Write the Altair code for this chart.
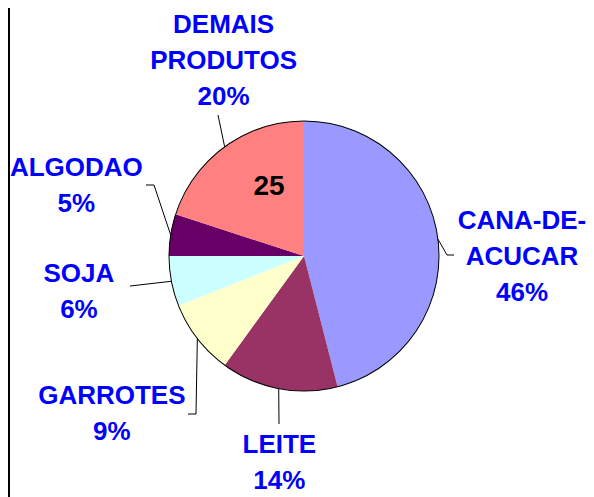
import math
import altair as alt
import pandas as pd

# ---- data ----
names = ["CANA-DE-ACUCAR", "LEITE", "GARROTES", "SOJA", "ALGODAO", "DEMAIS PRODUTOS"]
label_lines = [["CANA-DE-", "ACUCAR"], ["LEITE"], ["GARROTES"], ["SOJA"], ["ALGODAO"], ["DEMAIS", "PRODUTOS"]]
shares = [46, 14, 9, 6, 5, 20]
colors = ["#9999FF", "#993366", "#FFFFCC", "#CCFFFF", "#660066", "#FF8080"]
inner_note = "25"

# ---- layout ----
W, H = 578, 489
CX, CY = 296, 248          # pie centre inside the plot
R = 135                    # pie radius
LH = 36                    # label line height
label_radius = [218, 208, 249, 228, 238, 211]
label_nudge = [7.5, -4, -1.7, 1.6, 8, 13.6]       # degrees
leader_tail = [[(143, -1), (150, -1)], [(-25, 168)], [(-108, 158), (-116, 158)],
               [(-174, 30)], [(-150, -71), (-158, -71)], [(-86, -141)]]
note_angle, note_radius = 333, 77

total = sum(shares)
mids = []
cum = 0
for v in shares:
    mids.append((cum + v / 2) / total * 360)
    cum += v

def polar(deg, r):
    a = math.radians(deg)
    return r * math.sin(a), -r * math.cos(a)

pie_df = pd.DataFrame({"name": names, "share": shares, "i": list(range(len(names)))})

lab_rows = []
for k, n in enumerate(names):
    x, y = polar(mids[k] + label_nudge[k], label_radius[k])
    lines = label_lines[k] + [f"{shares[k]}%"]
    nl = len(lines)
    for j, t in enumerate(lines):
        lab_rows.append({"name": n, "x": x, "y": y + (j - (nl - 1) / 2) * LH, "text": t})
lab_df = pd.DataFrame(lab_rows)

lead_rows = []
for k, n in enumerate(names):
    x0, y0 = polar(mids[k], R)
    pts = [(x0, y0)] + leader_tail[k]
    for s, (px, py) in enumerate(pts):
        lead_rows.append({"name": n, "seq": s, "x": px, "y": py})
lead_df = pd.DataFrame(lead_rows)

nx, ny = polar(note_angle, note_radius)
note_df = pd.DataFrame({"x": [nx], "y": [ny], "text": [inner_note]})

xs = alt.Scale(domain=[-CX, W - CX], nice=False, zero=False)
ys = alt.Scale(domain=[-CY, H - CY], nice=False, zero=False, reverse=True)

pie = alt.Chart(pie_df).mark_arc(radius=R).encode(
    theta=alt.Theta("share:Q", stack=True),
    color=alt.Color("name:N", scale=alt.Scale(domain=names, range=colors), legend=None),
    order=alt.Order("i:Q", sort="ascending"),
    x=alt.X(datum=0, scale=xs, axis=None),
    y=alt.Y(datum=0, scale=ys, axis=None),
)

ring = alt.Chart(pd.DataFrame({"v": [total]})).mark_arc(
    radius=R + 0.5, radius2=R - 0.5, color="black"
).encode(
    theta=alt.Theta("v:Q"),
    x=alt.X(datum=0, scale=xs, axis=None),
    y=alt.Y(datum=0, scale=ys, axis=None),
)

leaders = alt.Chart(lead_df).mark_line(color="black", strokeWidth=1).encode(
    x=alt.X("x:Q", scale=xs, axis=None),
    y=alt.Y("y:Q", scale=ys, axis=None),
    detail="name:N",
    order="seq:Q",
)

labels = alt.Chart(lab_df).mark_text(
    font="Liberation Sans", fontWeight="bold", fontSize=26, color="#0000FF",
    align="center", baseline="middle",
).encode(
    x=alt.X("x:Q", scale=xs, axis=None),
    y=alt.Y("y:Q", scale=ys, axis=None),
    text="text:N",
)

note = alt.Chart(note_df).mark_text(
    font="Liberation Sans", fontWeight="bold", fontSize=28, color="black",
    align="center", baseline="middle",
).encode(
    x=alt.X("x:Q", scale=xs, axis=None),
    y=alt.Y("y:Q", scale=ys, axis=None),
    text="text:N",
)

border = alt.Chart(pd.DataFrame({"x": [-CX + 0.5]})).mark_rule(color="black", strokeWidth=3).encode(
    x=alt.X("x:Q", scale=xs, axis=None),
    y=alt.value(0),
    y2=alt.value(H),
)

chart = alt.layer(pie, ring, leaders, labels, note, border).properties(
    width=W, height=H, autosize=alt.AutoSizeParams(type="none"), padding=0
).configure_view(strokeWidth=0)

chart.save("out.html", embed_options={"renderer": "svg", "actions": False})
